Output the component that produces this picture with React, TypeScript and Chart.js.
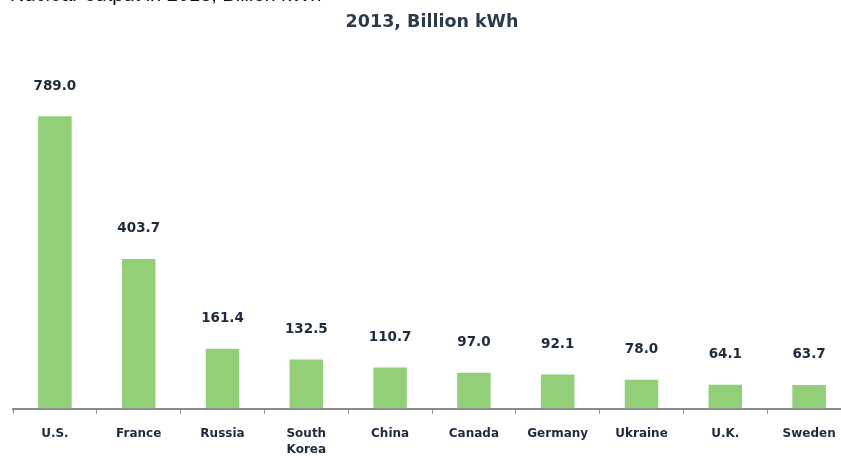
import React, { useEffect, useRef } from "react";
import { Chart, registerables } from "chart.js";

Chart.register(...registerables);

const categories: (string | string[])[] = ["U.S.", "France", "Russia", ["South", "Korea"], "China", "Canada", "Germany", "Ukraine", "U.K.", "Sweden"];
const values: number[] = [789.0, 403.7, 161.4, 132.5, 110.7, 97.0, 92.1, 78.0, 64.1, 63.7];
const titleText = "2013, Billion kWh";
const captionText = "Nuclear output in 2013, Billion kWh";

const valueLabels = {
  id: "valueLabels",
  afterDatasetsDraw(chart: any) {
    const ctx = chart.ctx;
    const meta = chart.getDatasetMeta(0);
    ctx.save();
    ctx.font = "bold 13.5px 'DejaVu Sans', sans-serif";
    ctx.fillStyle = "#1f2b3c";
    ctx.textAlign = "center";
    ctx.textBaseline = "middle";
    meta.data.forEach((bar: any, i: number) => {
      ctx.fillText(values[i].toFixed(1), bar.x, bar.y - 30);
    });
    ctx.restore();
  },
};

export default function App() {
  const ref = useRef<HTMLCanvasElement>(null);
  useEffect(() => {
    if (!ref.current) return;
    const chart = new Chart(ref.current, {
      type: "bar",
      data: {
        labels: categories,
        datasets: [
          {
            data: values,
            backgroundColor: "#92cf78",
            barPercentage: 0.4,
            categoryPercentage: 1,
          },
        ],
      },
      options: {
        animation: false,
        responsive: false,
        maintainAspectRatio: false,
        layout: { padding: { left: 13, right: 1, top: 0, bottom: 0 } },
        plugins: {
          legend: { display: false },
          tooltip: { enabled: false },
          title: {
            display: true,
            text: titleText,
            color: "#2b3a4c",
            font: { family: "'DejaVu Sans', sans-serif", size: 17.5, weight: "bold" },
            padding: { top: 12, bottom: 5 },
          },
        },
        scales: {
          x: {
            offset: true,
            grid: {
              offset: true,
              drawOnChartArea: false,
              drawTicks: true,
              tickLength: 5,
              color: "#8a8a8a",
            },
            border: { display: true, color: "#8a8a8a", width: 2 },
            ticks: {
              color: "#1f2b3c",
              padding: 12,
              maxRotation: 0,
              autoSkip: false,
              font: { family: "'DejaVu Sans', sans-serif", size: 12, weight: "bold", lineHeight: 1.35 },
            },
          },
          y: {
            display: false,
            min: 0,
            max: 1000,
          },
        },
      },
      plugins: [valueLabels],
    });
    return () => chart.destroy();
  }, []);

  return (
    <div style={{ position: "fixed", left: 0, top: 0, width: 841, height: 456, overflow: "hidden", background: "#fff" }}>
      <div
        style={{
          position: "absolute",
          left: 10,
          top: -16,
          fontFamily: "'Liberation Sans', Arial, sans-serif",
          fontSize: 20,
          lineHeight: "20px",
          color: "#111",
          whiteSpace: "nowrap",
          zIndex: 2,
        }}
      >
        {captionText}
      </div>
      <canvas ref={ref} width={852} height={470} style={{ position: "absolute", left: 0, top: 0 }} />
    </div>
  );
}
